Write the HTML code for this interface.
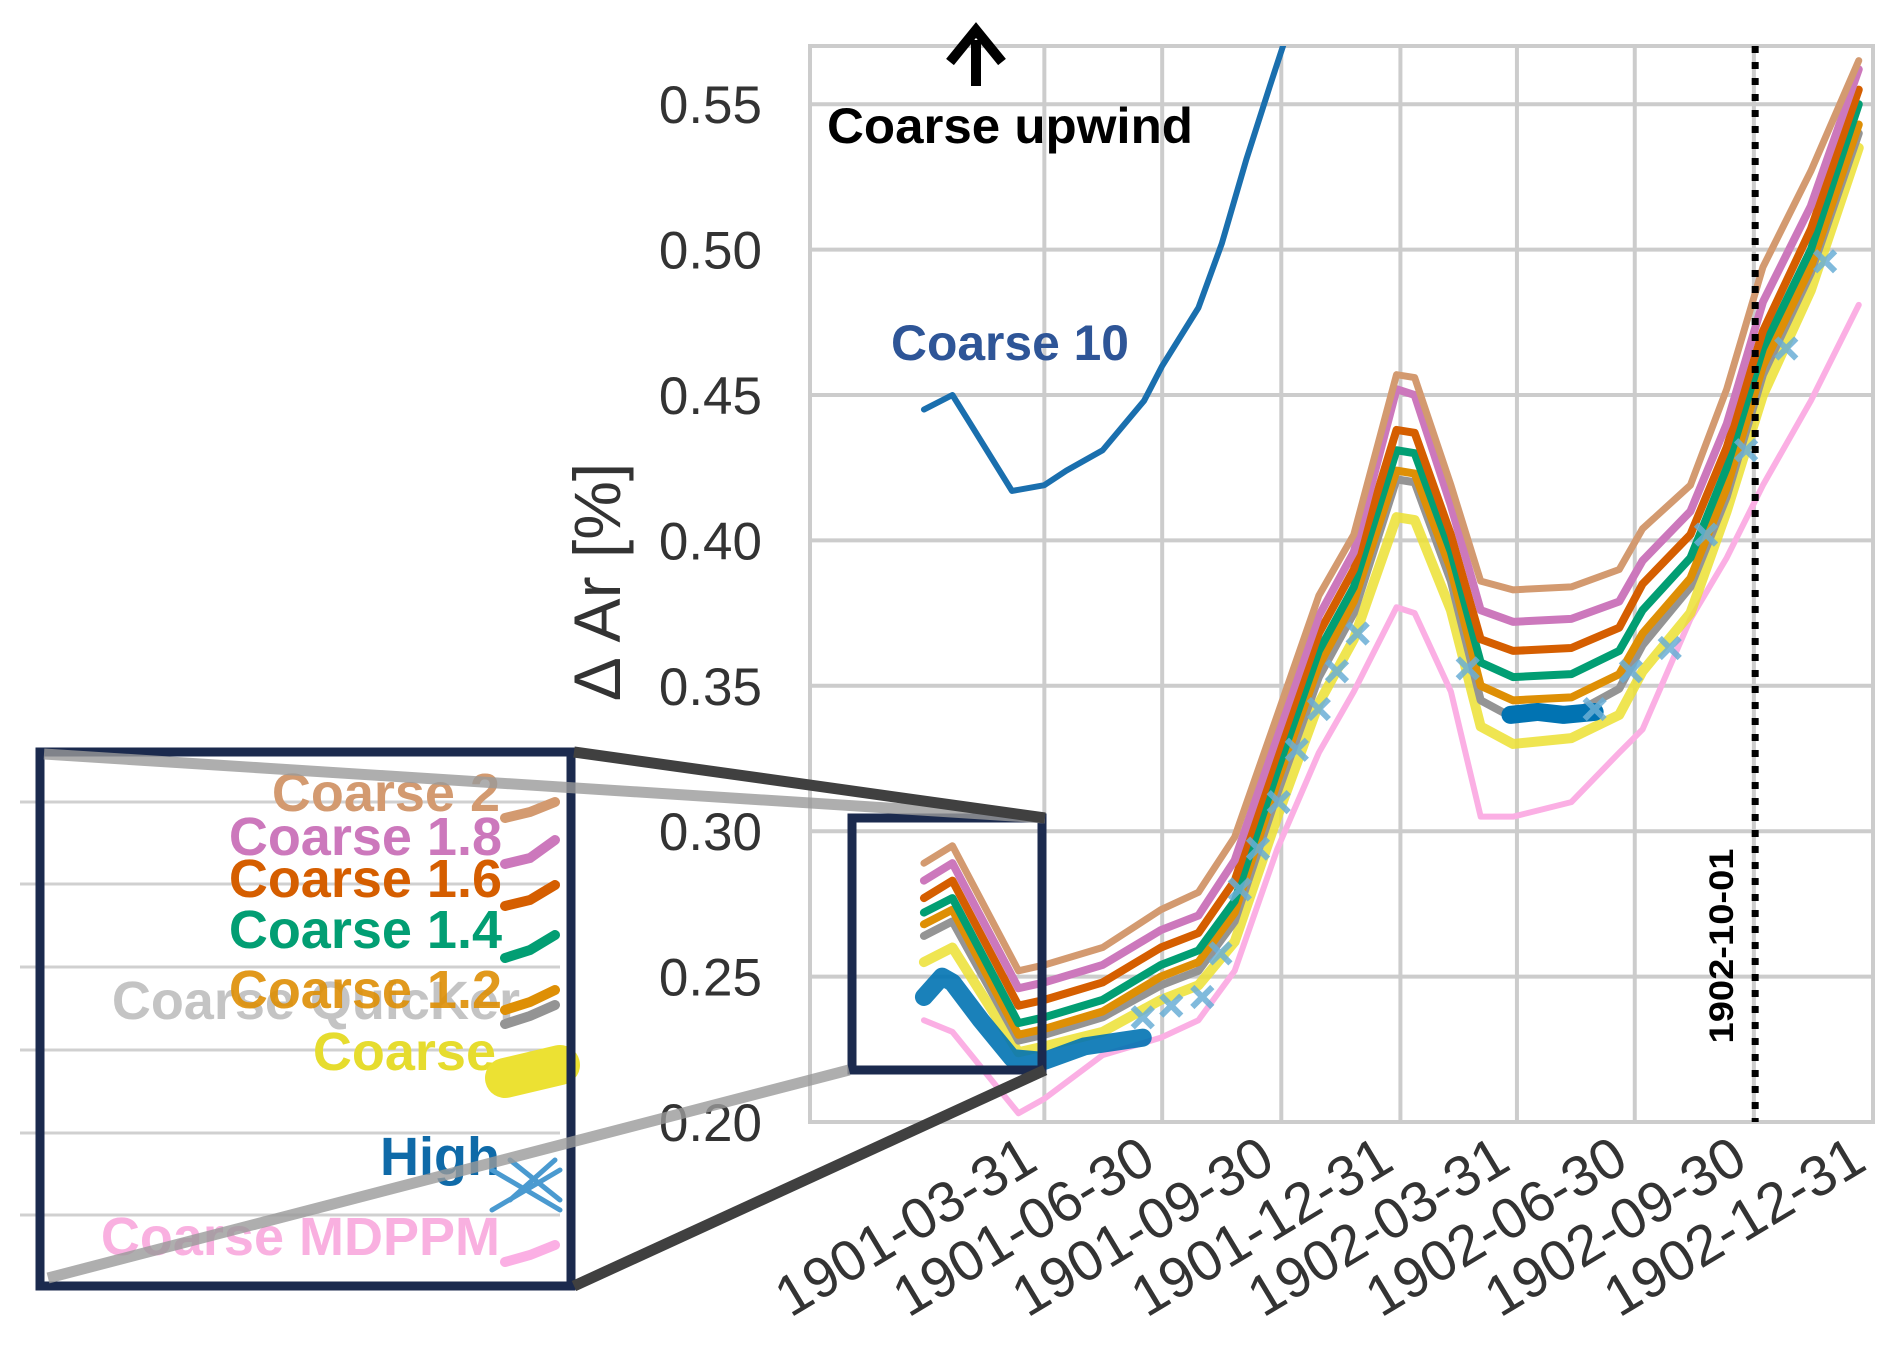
<!DOCTYPE html>
<html><head><meta charset="utf-8"><style>
html,body{margin:0;padding:0;background:#fff;width:1892px;height:1358px;overflow:hidden}
svg{display:block}
</style></head><body>
<svg id="chart" width="1892" height="1358" viewBox="0 0 1892 1358" xmlns="http://www.w3.org/2000/svg">
<g id="grid"></g>
<g id="series"></g>
<g id="axes"></g>
<g id="annot"></g>
</svg>
<script>
// ---- data (days since 1901-01-01) ----
const days = [-4,18,69,89,134,179,208,236,269,301,328,361,375,403,426,451,496,533,551,588,616,644,681,718];
const coarse2   = [.289,.295,.252,.254,.260,.273,.279,.298,.340,.381,.402,.457,.456,.419,.386,.383,.384,.390,.404,.419,.452,.494,.527,.565];
const coarse18  = [.283,.289,.246,.248,.254,.266,.271,.290,.333,.374,.396,.452,.450,.412,.376,.372,.373,.379,.393,.410,.440,.482,.515,.562];
const coarse16  = [.277,.283,.240,.242,.248,.260,.265,.283,.327,.368,.390,.438,.437,.402,.366,.362,.363,.370,.385,.402,.432,.472,.507,.555];
const coarse14  = [.272,.277,.234,.236,.242,.254,.259,.276,.321,.362,.384,.431,.430,.396,.358,.353,.354,.362,.376,.394,.425,.466,.500,.550];
const coarse12  = [.268,.273,.230,.232,.238,.250,.255,.272,.317,.357,.379,.424,.423,.390,.350,.345,.346,.354,.368,.387,.418,.460,.494,.543];
const quicker   = [.264,.269,.228,.230,.236,.247,.252,.269,.313,.353,.375,.421,.420,.386,.345,.339,.340,.349,.364,.384,.415,.457,.492,.540];
const coarse    = [.255,.260,.224,.226,.231,.242,.247,.262,.305,.344,.366,.408,.407,.376,.336,.330,.332,.340,.355,.375,.410,.450,.486,.535];
const mdppm     = [.235,.231,.203,.208,.223,.229,.235,.252,.294,.327,.348,.377,.375,.348,.305,.305,.310,.327,.335,.373,.394,.419,.448,.481];
const c10Days   = [-4,18,32,64,89,106,134,166,180,208,226,245,263,277];
const coarse10  = [.445,.450,.440,.417,.419,.424,.431,.448,.460,.480,.502,.531,.556,.575];
const highDays1 = [-4,10,18,40,64,89,120,150,165];
const high1     = [.243,.250,.248,.235,.222,.221,.226,.228,.229];
const highDays2 = [449,470,490,514];
const high2     = [.340,.341,.340,.341];
const crossDays = [165,187,211,225,240,254,270,284,301,315,331,416,514,542,572,600,631,662,692];
const crossVals = [.236,.240,.243,.258,.280,.294,.310,.328,.342,.355,.368,.356,.342,.355,.363,.402,.431,.466,.496];
const yTicks = [0.20,0.25,0.30,0.35,0.40,0.45,0.50,0.55];
const yTickLabels = ["0.20","0.25","0.30","0.35","0.40","0.45","0.50","0.55"];
const xTickDays = [89,180,272,364,454,545,637,729];
const xTickLabels = ["1901-03-31","1901-06-30","1901-09-30","1901-12-31","1902-03-31","1902-06-30","1902-09-30","1902-12-31"];
const markerDay = 638;

// ---- axes ----
const L=810,R=1873,T=46,B=1122;
const X0=-92,X1=729,Y0=0.20,Y1=0.20+(B-T)/145.4*0.05;
const x=d=>L+(d-X0)/(X1-X0)*(R-L);
const y=v=>B-(v-Y0)/(Y1-Y0)*(B-T);
const NS="http://www.w3.org/2000/svg";
function mk(tag,attrs,parent){const e=document.createElementNS(NS,tag);for(const k in attrs)e.setAttribute(k,attrs[k]);parent.appendChild(e);return e;}
const grid=document.getElementById('grid'),ser=document.getElementById('series'),axes=document.getElementById('axes'),ann=document.getElementById('annot');

let fr=mk('rect',{x:L,y:T,width:R-L,height:B-T,fill:'none',stroke:'#cccccc','stroke-width':4},grid);


yTicks.forEach((v,i)=>{
  const g=mk('line',{x1:L,x2:R,y1:y(v),y2:y(v),stroke:'#cccccc','stroke-width':4},grid);
  
  
  const t=mk('text',{x:762,y:y(v)+19,'text-anchor':'end','font-family':'Liberation Sans, sans-serif','font-size':53,fill:'#333'},axes);
  t.textContent=yTickLabels[i];
  
  
});
xTickDays.forEach((d,i)=>{
  const g=mk('line',{x1:x(d),x2:x(d),y1:T,y2:B,stroke:'#cccccc','stroke-width':4},grid);
  
  
  const tx=x(d)-4,ty=B+46;
  const t=mk('text',{x:tx,y:ty,'text-anchor':'end','font-family':'Liberation Sans, sans-serif','font-size':57,fill:'#333',transform:`rotate(-31 ${tx} ${ty})`},axes);
  t.textContent=xTickLabels[i];
  
  
});
const yl=mk('text',{x:0,y:0,'text-anchor':'middle','font-family':'Liberation Sans, sans-serif','font-size':66,fill:'#333',transform:'translate(620 582) rotate(-90)'},axes);
yl.textContent='Δ Ar [%]';



const defs=mk('defs',{},document.getElementById('chart'));
const cp=mk('clipPath',{id:'clip'},defs);mk('rect',{x:L,y:T,width:R-L,height:B-T},cp);
ser.setAttribute('clip-path','url(#clip)');

function line(ds,vs,color,w,name,op){
  const p=mk('polyline',{points:ds.map((d,i)=>x(d)+','+y(vs[i])).join(' '),fill:'none',stroke:color,'stroke-width':w,'stroke-linejoin':'round','stroke-linecap':'round',opacity:op||1},ser);
  
  
}
line(days,mdppm,'#fbafe4',6,'line-coarse-mdppm');
line(days,coarse,'#ece133',10,'line-coarse',0.85);
line(days,quicker,'#949494',8,'line-coarse-quicker');
line(days,coarse12,'#de8f05',8,'line-coarse-1-2');
line(days,coarse14,'#029e73',8,'line-coarse-1-4');
line(days,coarse16,'#d55e00',8,'line-coarse-1-6');
line(days,coarse18,'#cc78bc',8,'line-coarse-1-8');
line(days,coarse2,'#d39a70',7,'line-coarse-2');
line(c10Days,coarse10,'#1a6fae',6,'line-coarse-10');
line(highDays1,high1,'#0173b2',18,'line-high-1',0.9);
line(highDays2,high2,'#0173b2',18,'line-high-2');
crossDays.forEach((d,i)=>{
  const cx=x(d),cy=y(crossVals[i]),s=10;
  const g=mk('path',{d:`M${cx-s} ${cy-s}L${cx+s} ${cy+s}M${cx-s} ${cy+s}L${cx+s} ${cy-s}`,stroke:'#6aafd6','stroke-width':6,opacity:0.85},ser);
  
  
});
const vx=x(markerDay);
const vl=mk('line',{x1:vx,x2:vx,y1:T,y2:B,stroke:'#000','stroke-width':7,'stroke-dasharray':'7 9'},ann);


</script>
<svg style="position:absolute;left:0;top:0" width="1892" height="1358" xmlns="http://www.w3.org/2000/svg">
  <text x="1733" y="946" transform="rotate(-90 1733 946)" text-anchor="middle" font-family="Liberation Sans, sans-serif" font-weight="bold" font-size="34" fill="#000" textLength="195" lengthAdjust="spacingAndGlyphs">1902-10-01</text>
  <g>
    <line x1="976" y1="86" x2="976" y2="40" stroke="#000" stroke-width="10"/>
    <path d="M950 62 L976 30 L1002 62" fill="none" stroke="#000" stroke-width="10"/>
  </g>
  <text x="827" y="143" font-family="Liberation Sans, sans-serif" font-weight="bold" font-size="50" fill="#000" textLength="366" lengthAdjust="spacingAndGlyphs">Coarse upwind</text>
  <text x="891" y="360" font-family="Liberation Sans, sans-serif" font-weight="bold" font-size="50" fill="#2e5597" textLength="238" lengthAdjust="spacingAndGlyphs">Coarse 10</text>
  <rect x="852" y="818" width="190" height="252" fill="none" stroke="#1b2a4e" stroke-width="9"/>
  <g>
    <g stroke="#d0d0d0" stroke-width="3">
      <line x1="20" x2="560" y1="802" y2="802"/><line x1="20" x2="560" y1="884" y2="884"/>
      <line x1="20" x2="560" y1="967" y2="967"/><line x1="20" x2="560" y1="1050" y2="1050"/>
      <line x1="20" x2="560" y1="1133" y2="1133"/><line x1="20" x2="560" y1="1215" y2="1215"/>
    </g>
    <g font-family="Liberation Sans, sans-serif" font-weight="bold" font-size="54" text-anchor="end">
      <text x="520" y="1019" fill="#c4c4c4">Coarse QuicKer</text>
      <text x="500" y="811" fill="#d39a70">Coarse 2</text>
      <text x="502" y="855" fill="#cc78bc">Coarse 1.8</text>
      <text x="502" y="897" fill="#d55e00">Coarse 1.6</text>
      <text x="502" y="948" fill="#029e73">Coarse 1.4</text>
      <text x="502" y="1008" fill="#de8f05" opacity="0.9">Coarse 1.2</text>
      <text x="496" y="1070" fill="#e6dc2e">Coarse</text>
      <text x="500" y="1175" fill="#0f6aa8">High</text>
      <text x="500" y="1255" fill="#f9b0e0">Coarse MDPPM</text>
    </g>
    <g fill="none" stroke-width="10" stroke-linecap="round">
      <path d="M505 818 L530 812 L555 802" stroke="#d39a70"/>
      <path d="M505 864 L530 858 L555 840" stroke="#cc78bc"/>
      <path d="M505 906 L530 900 L555 885" stroke="#d55e00"/>
      <path d="M505 958 L530 950 L555 935" stroke="#029e73"/>
      <path d="M505 1010 L530 1002 L555 990" stroke="#de8f05"/>
      <path d="M505 1024 L530 1016 L555 1005" stroke="#949494"/>
      <path d="M505 1078 L560 1065" stroke="#ece133" stroke-width="40"/>
      <path d="M505 1262 L530 1255 L555 1245" stroke="#fbafe4"/>
      <path d="M492 1170 L560 1210 M492 1210 L560 1170 M510 1160 L560 1200 M510 1200 L555 1160" stroke="#4a9ad0" stroke-width="5"/>
    </g>
    <rect x="40" y="752" width="531" height="534" fill="none" stroke="#1b2a4e" stroke-width="9"/>
  </g>
  <g stroke-width="11" stroke-linecap="butt">
    <line x1="44" y1="754" x2="1045" y2="818" stroke="#9a9a9a" opacity="0.8"/>
    <line x1="574" y1="752" x2="1045" y2="818" stroke="#404040"/>
    <line x1="48" y1="1278" x2="849" y2="1070" stroke="#9a9a9a" opacity="0.8"/>
    <line x1="574" y1="1286" x2="1045" y2="1070" stroke="#404040"/>
  </g>
</svg>
</body></html>
